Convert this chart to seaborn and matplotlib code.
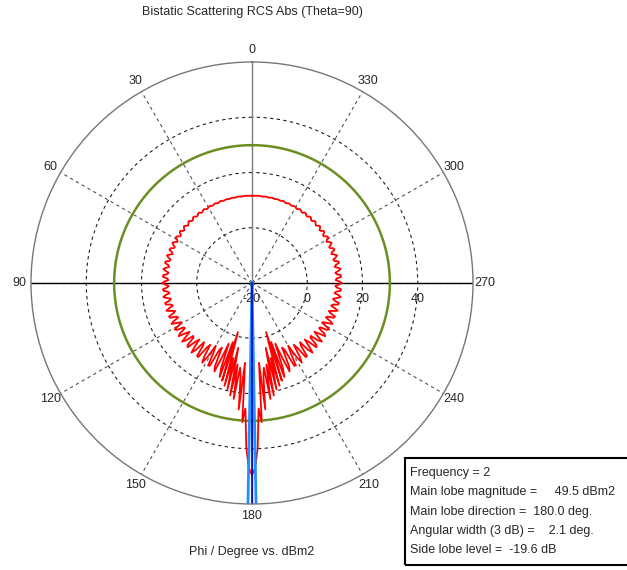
#!/usr/bin/env python3
"""
Bistatic scattering RCS polar cut (Theta=90) recreated with seaborn/matplotlib.
"""

import numpy as np
import pandas as pd
import matplotlib
matplotlib.use("Agg")
import matplotlib.pyplot as plt
from matplotlib.patches import Rectangle
import seaborn as sns

# phi samples of one half of the cut (the pattern is symmetric about phi=180)
phi_half = list(range(0, 181))

# RCS in dBm2, phi = 0 .. 180 deg
rcs_half = [
    11.6, 11.6, 11.6, 11.6, 11.7, 11.6, 11.6, 11.5, 11.6, 11.7,   # 0-9
    11.6, 11.5, 11.6, 11.7, 11.6, 11.5, 11.6, 11.7, 11.6, 11.5,   # 10-19
    11.6, 11.8, 11.6, 11.4, 11.6, 11.8, 11.6, 11.4, 11.6, 11.8,   # 20-29
    11.6, 11.3, 11.5, 11.9, 11.7, 11.3, 11.4, 11.9, 11.8, 11.3,   # 30-39
    11.3, 11.9, 11.9, 11.3, 11.2, 11.8, 12.0, 11.4, 11.1, 11.6,   # 40-49
    12.1, 11.7, 11.0, 11.3, 12.1, 11.9, 11.0, 11.0, 11.9, 12.2,   # 50-59
    11.3, 10.8, 11.5, 12.3, 11.8, 10.8, 11.0, 12.1, 12.2, 11.0,   # 60-69
    10.6, 11.6, 12.4, 11.7, 10.6, 10.9, 12.2, 12.3, 10.9, 10.5,   # 70-79
    11.7, 12.5, 11.6, 10.4, 10.8, 12.3, 12.3, 10.7, 10.3, 11.7,   # 80-89
    12.5, 11.4, 10.2, 10.7, 12.3, 12.2, 10.5, 10.1, 11.6, 12.5,   # 90-99
    11.3, 9.9, 10.5, 12.3, 12.2, 10.2, 9.8, 11.5, 12.6, 11.1,     # 100-109
    9.6, 10.4, 12.4, 12.2, 9.9, 9.5, 11.6, 12.7, 10.8, 9.2,       # 110-119
    10.4, 12.6, 12.1, 9.4, 9.3, 11.9, 12.8, 10.4, 8.7, 10.6,      # 120-129
    13.0, 11.7, 8.6, 9.0, 12.5, 12.9, 9.6, 8.0, 11.0, 13.4,       # 130-139
    11.5, 7.6, 8.8, 13.0, 13.2, 8.6, 7.0, 11.8, 14.0, 11.0,       # 140-149
    6.2, 8.6, 13.9, 13.6, 6.9, 5.8, 13.0, 14.8, 9.0, 3.5,         # 150-159
    12.5, 16.0, 2.5, 17.0, -1.5, 18.5, 8.0, 19.5, 4.0, 21.5,      # 160-169
    10.0, 22.5, 11.0, 14.0, 26.0, 9.0, 30.5, 25.5, 39.5, 46.9,    # 170-179
    49.5,                                                          # 180
]

# farfield summary
frequency = 2
main_lobe_mag = 49.5      # dBm2
main_lobe_dir = 180.0     # deg
angular_width = 2.1       # deg (3 dB)
side_lobe_level = -19.6   # dB

theta_ticks = list(range(0, 360, 30))
r_ticks = [-20, 0, 20, 40]
r_min, r_max = -20, 60

# full 0..360 cut, mirrored about 180
phi_full = np.array(phi_half + [360 - p for p in phi_half[::-1][1:]], dtype=float)
rcs_full = np.array(rcs_half + rcs_half[::-1][1:], dtype=float)
df = pd.DataFrame({"phi": np.radians(phi_full), "rcs": rcs_full})

sns.set_style("white")
plt.rcParams["font.family"] = ["Liberation Sans", "DejaVu Sans"]

W, H = 627, 570
fig = plt.figure(figsize=(W / 100, H / 100), dpi=100)
cx, cy, rad = 252, 283, 221
ax = fig.add_axes([(cx - rad) / W, (H - cy - rad) / H, 2 * rad / W, 2 * rad / H],
                  projection="polar")
ax.set_theta_zero_location("N")
ax.set_theta_direction(1)
ax.set_ylim(r_min, r_max)

# grid
ax.set_thetagrids(theta_ticks, labels=[str(t) for t in theta_ticks], fontsize=9)
ax.tick_params(axis="x", pad=-2)
ax.set_rgrids([0, 20, 40], labels=["", "", ""])
ax.xaxis.grid(True, color="#555555", linestyle=(0, (3, 3)), linewidth=0.8)
ax.yaxis.grid(True, color="#222222", linestyle=(0, (3, 3)), linewidth=0.8)
ax.spines["polar"].set_color("#777777")
ax.spines["polar"].set_linewidth(1.0)
ax.axvline(np.radians(0), color="#808080", linewidth=1.0)
ax.axvline(np.radians(180), color="#808080", linewidth=1.0)
ax.axvline(np.radians(90), color="black", linewidth=1.0)
ax.axvline(np.radians(270), color="black", linewidth=1.0)

# radial labels under the 270 axis
for r in r_ticks:
    ax.annotate(str(r), xy=(np.radians(270), r), xytext=(0, -7),
                textcoords="offset points", ha="center", va="top", fontsize=9)

# side lobe level circle
ring = np.radians(np.arange(0, 361))
ax.plot(ring, np.full(ring.shape, main_lobe_mag + side_lobe_level),
        color="#6b8e23", linewidth=1.8)

# pattern
sns.lineplot(data=df, x="phi", y="rcs", sort=False, estimator=None,
             color="red", linewidth=1.3, ax=ax)

# main lobe direction and 3 dB width
for d in (main_lobe_dir - angular_width / 2, main_lobe_dir + angular_width / 2):
    ax.axvline(np.radians(d), color="#1e90ff", linewidth=2.0)
ax.axvline(np.radians(main_lobe_dir), color="#0000cc", linewidth=1.2)

ax.set_xlabel("")
ax.set_ylabel("")
ax.set_ylim(r_min, r_max)

fig.text(cx / W, 1 - 12 / H, "Bistatic Scattering RCS Abs (Theta=90)",
         ha="center", va="center", fontsize=9)
fig.text(cx / W, 1 - 552 / H, "Phi / Degree vs. dBm2",
         ha="center", va="center", fontsize=9)

# info box
bx0, by0 = 405, 458
fig.patches.append(Rectangle((bx0 / W, 1 - 565 / H), (W - bx0 + 5) / W, (565 - by0) / H,
                             transform=fig.transFigure, fill=False,
                             edgecolor="black", linewidth=1.5, clip_on=False))
info = [
    f"Frequency = {frequency}",
    f"Main lobe magnitude =     {main_lobe_mag:.1f} dBm2",
    f"Main lobe direction =  {main_lobe_dir:.1f} deg.",
    f"Angular width (3 dB) =    {angular_width:.1f} deg.",
    f"Side lobe level =  {side_lobe_level:.1f} dB",
]
for i, line in enumerate(info):
    fig.text(410 / W, 1 - (473 + 19.3 * i) / H, line, ha="left", va="center", fontsize=9)

fig.savefig("out.png", dpi=100)
